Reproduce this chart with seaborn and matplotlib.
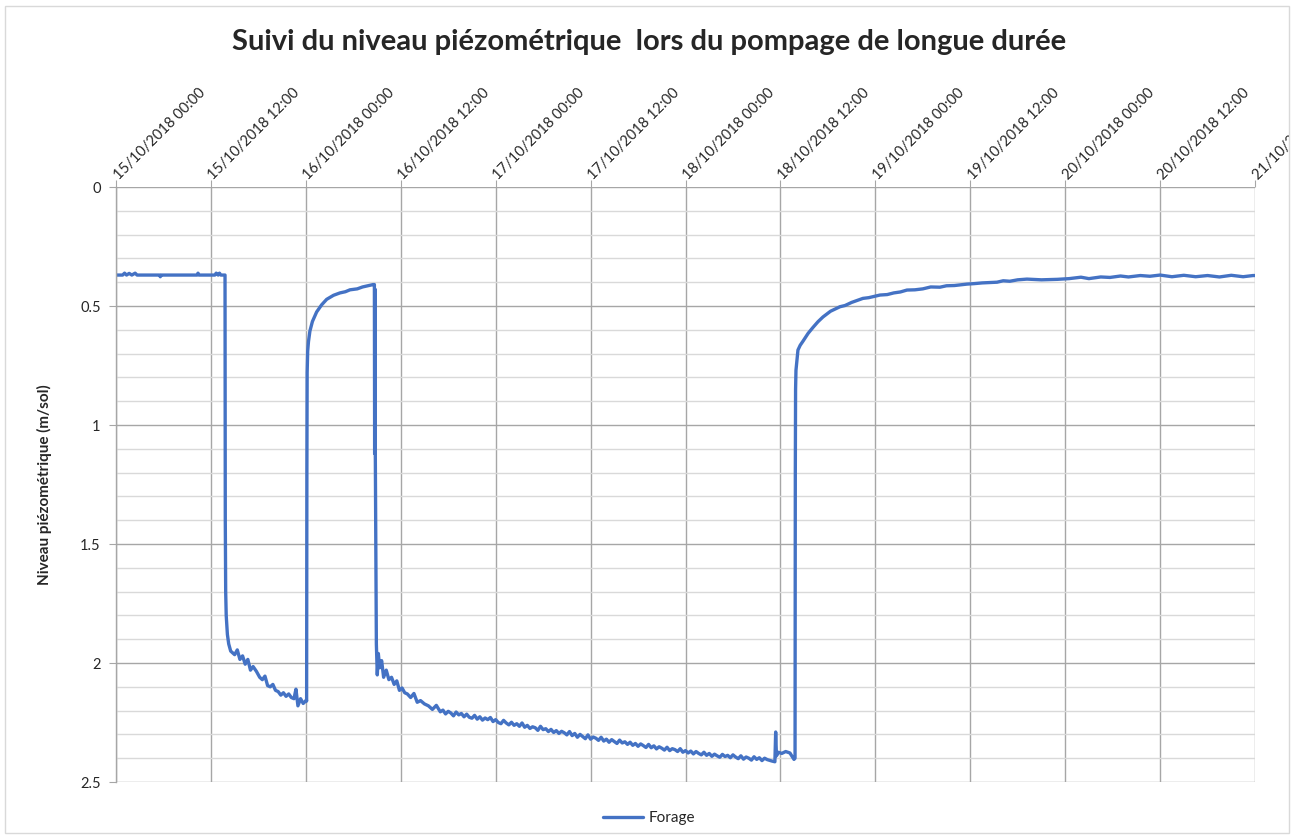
import matplotlib
matplotlib.use("Agg")
import matplotlib.dates as mdates
import matplotlib.pyplot as plt
import pandas as pd
import seaborn as sns
from matplotlib.patches import Rectangle
from matplotlib.ticker import FuncFormatter, MultipleLocator
from matplotlib.transforms import Bbox, TransformedBbox

TITLE = "Suivi du niveau piézométrique  lors du pompage de longue durée"
Y_LABEL = "Niveau piézométrique (m/sol)"
SERIES = "Forage"

# relevés du forage (date/heure, niveau en m/sol)
# avant la longue descente : statique, premier pompage, remontée 1, début du pompage longue durée
times_pre = [
    "2018-10-15 00:00", "2018-10-15 00:50", "2018-10-15 01:05", "2018-10-15 01:20", "2018-10-15 01:40",
    "2018-10-15 02:00", "2018-10-15 02:25", "2018-10-15 02:40", "2018-10-15 05:30", "2018-10-15 05:36",
    "2018-10-15 05:42", "2018-10-15 10:15", "2018-10-15 10:22", "2018-10-15 10:30", "2018-10-15 12:30",
    "2018-10-15 12:40", "2018-10-15 12:55", "2018-10-15 13:05", "2018-10-15 13:15", "2018-10-15 13:47",
    "2018-10-15 13:49", "2018-10-15 13:52", "2018-10-15 13:56", "2018-10-15 14:05", "2018-10-15 14:15",
    "2018-10-15 14:30", "2018-10-15 15:00", "2018-10-15 15:20", "2018-10-15 15:40", "2018-10-15 16:00",
    "2018-10-15 16:20", "2018-10-15 16:40", "2018-10-15 17:00", "2018-10-15 17:20", "2018-10-15 17:45",
    "2018-10-15 18:10", "2018-10-15 18:30", "2018-10-15 18:50", "2018-10-15 19:10", "2018-10-15 19:30",
    "2018-10-15 19:50", "2018-10-15 20:10", "2018-10-15 20:30", "2018-10-15 20:50", "2018-10-15 21:10",
    "2018-10-15 21:30", "2018-10-15 21:50", "2018-10-15 22:10", "2018-10-15 22:30", "2018-10-15 22:45",
    "2018-10-15 23:00", "2018-10-15 23:20", "2018-10-15 23:40", "2018-10-15 23:58", "2018-10-16 00:04",
    "2018-10-16 00:06", "2018-10-16 00:08", "2018-10-16 00:10", "2018-10-16 00:14", "2018-10-16 00:20",
    "2018-10-16 00:31", "2018-10-16 00:50", "2018-10-16 01:22", "2018-10-16 02:00", "2018-10-16 02:38",
    "2018-10-16 03:30", "2018-10-16 04:19", "2018-10-16 05:00", "2018-10-16 05:35", "2018-10-16 06:30",
    "2018-10-16 07:10", "2018-10-16 07:42", "2018-10-16 08:30",
    "2018-10-16 08:40", "2018-10-16 08:42", "2018-10-16 08:43", "2018-10-16 08:44", "2018-10-16 08:46",
    "2018-10-16 08:47", "2018-10-16 08:55", "2018-10-16 09:02", "2018-10-16 09:10", "2018-10-16 09:20",
    "2018-10-16 09:35", "2018-10-16 09:50", "2018-10-16 10:10", "2018-10-16 10:30", "2018-10-16 10:50",
    "2018-10-16 11:10", "2018-10-16 11:30", "2018-10-16 11:50", "2018-10-16 12:10", "2018-10-16 12:30",
    "2018-10-16 12:50", "2018-10-16 13:15", "2018-10-16 13:40", "2018-10-16 14:05", "2018-10-16 14:30",
    "2018-10-16 15:00", "2018-10-16 15:30", "2018-10-16 16:00", "2018-10-16 16:30",
]
levels_pre = [
    0.370, 0.370, 0.362, 0.370, 0.363,
    0.370, 0.362, 0.370, 0.370, 0.377,
    0.370, 0.370, 0.362, 0.370, 0.370,
    0.362, 0.370, 0.362, 0.370, 0.370,
    1.400, 1.700, 1.800, 1.880, 1.920,
    1.950, 1.965, 1.945, 1.985, 1.970,
    2.005, 1.985, 2.030, 2.015, 2.035,
    2.060, 2.070, 2.055, 2.095, 2.100,
    2.090, 2.115, 2.120, 2.135, 2.125,
    2.140, 2.130, 2.145, 2.150, 2.110,
    2.180, 2.150, 2.170, 2.160, 2.155,
    2.160, 1.200, 0.780, 0.690, 0.650,
    0.605, 0.565, 0.525, 0.495, 0.472,
    0.455, 0.445, 0.440, 0.432, 0.428,
    0.420, 0.416, 0.410,
    0.410, 1.120, 0.450, 1.100, 0.430,
    1.120, 1.920, 2.050, 1.960, 2.020,
    1.990, 2.060, 2.030, 2.070, 2.060,
    2.090, 2.075, 2.115, 2.105, 2.125,
    2.130, 2.145, 2.128, 2.165, 2.158,
    2.172, 2.180, 2.195, 2.178,
]

# longue descente, relevés toutes les 20 min (16/10 17:00 -> 18/10 10:20)
decline_start = "2018-10-16 17:00"
decline_end = "2018-10-18 10:20"
levels_decline = [
    2.205, 2.198, 2.214, 2.203, 2.210, 2.222, 2.206, 2.218, 2.212, 2.226,
    2.215, 2.228, 2.232, 2.220, 2.236, 2.226, 2.240, 2.231, 2.238, 2.229,
    2.246, 2.238, 2.250, 2.255, 2.241, 2.252, 2.260, 2.249, 2.262, 2.255,
    2.266, 2.252, 2.270, 2.262, 2.275, 2.268, 2.272, 2.283, 2.266, 2.280,
    2.276, 2.288, 2.279, 2.292, 2.284, 2.296, 2.287, 2.293, 2.302, 2.288,
    2.305, 2.296, 2.312, 2.300, 2.309, 2.318, 2.302, 2.320, 2.311, 2.316,
    2.325, 2.312, 2.328, 2.320, 2.333, 2.322, 2.330, 2.338, 2.324, 2.336,
    2.331, 2.342, 2.333, 2.346, 2.338, 2.350, 2.340, 2.347, 2.355, 2.342,
    2.356, 2.348, 2.361, 2.352, 2.358, 2.366, 2.354, 2.368, 2.360, 2.364,
    2.372, 2.360, 2.375, 2.368, 2.378, 2.370, 2.382, 2.372, 2.380, 2.386,
    2.375, 2.388, 2.380, 2.392, 2.383, 2.390, 2.396, 2.384, 2.393, 2.388,
    2.398, 2.386, 2.395, 2.402, 2.390, 2.404, 2.395, 2.400, 2.408, 2.394,
    2.405, 2.398, 2.410, 2.400, 2.406,
]

# fin du pompage et remontée 2
times_post = [
    "2018-10-18 10:56", "2018-10-18 11:18", "2018-10-18 11:24",
    "2018-10-18 11:30", "2018-10-18 11:45", "2018-10-18 12:10", "2018-10-18 12:40", "2018-10-18 13:12",
    "2018-10-18 13:43", "2018-10-18 13:51",
    "2018-10-18 13:53", "2018-10-18 13:55", "2018-10-18 13:58", "2018-10-18 14:13", "2018-10-18 14:30",
    "2018-10-18 14:51", "2018-10-18 15:30", "2018-10-18 16:07", "2018-10-18 16:45", "2018-10-18 17:23",
    "2018-10-18 18:20", "2018-10-18 19:32", "2018-10-18 20:10", "2018-10-18 21:00", "2018-10-18 22:26",
    "2018-10-18 23:10", "2018-10-19 00:35", "2018-10-19 01:30", "2018-10-19 02:20", "2018-10-19 03:10",
    "2018-10-19 04:00", "2018-10-19 05:00", "2018-10-19 06:00", "2018-10-19 07:00", "2018-10-19 08:10",
    "2018-10-19 09:00", "2018-10-19 10:00", "2018-10-19 11:35", "2018-10-19 12:30", "2018-10-19 13:30",
    "2018-10-19 15:23", "2018-10-19 16:10", "2018-10-19 17:00", "2018-10-19 18:00", "2018-10-19 19:10",
    "2018-10-19 21:00", "2018-10-19 23:00", "2018-10-20 00:30", "2018-10-20 02:00", "2018-10-20 03:00",
    "2018-10-20 04:30", "2018-10-20 05:40", "2018-10-20 07:00", "2018-10-20 08:00", "2018-10-20 09:30",
    "2018-10-20 10:43", "2018-10-20 12:00", "2018-10-20 13:30", "2018-10-20 15:00", "2018-10-20 16:30",
    "2018-10-20 18:00", "2018-10-20 19:30", "2018-10-20 21:00", "2018-10-20 22:30", "2018-10-20 23:45",
    "2018-10-21 00:00",
]
levels_post = [
    2.412, 2.415, 2.290,
    2.390, 2.375, 2.380, 2.372, 2.378,
    2.405, 2.400,
    1.200, 0.850, 0.770, 0.685, 0.665,
    0.648, 0.615, 0.590, 0.566, 0.546,
    0.522, 0.503, 0.498, 0.485, 0.468,
    0.465, 0.454, 0.452, 0.445, 0.441,
    0.433, 0.432, 0.428, 0.420, 0.421,
    0.415, 0.414, 0.408, 0.406, 0.403,
    0.400, 0.394, 0.396, 0.390, 0.387,
    0.390, 0.388, 0.385, 0.379, 0.385,
    0.378, 0.380, 0.374, 0.378, 0.372,
    0.375, 0.370, 0.377, 0.371, 0.377,
    0.372, 0.378, 0.371, 0.377, 0.372,
    0.372,
]

x_start = "2018-10-15 00:00"
x_end = "2018-10-21 00:00"

decline_times = pd.date_range(decline_start, decline_end, freq="20min")
assert len(times_pre) == len(levels_pre)
assert len(decline_times) == len(levels_decline)
assert len(times_post) == len(levels_post)

df = pd.DataFrame({
    "date": list(pd.to_datetime(times_pre)) + list(decline_times) + list(pd.to_datetime(times_post)),
    "niveau": levels_pre + levels_decline + levels_post,
})

W, H = 1298, 838
sns.set_style("white")
plt.rcParams["font.family"] = ["Lato", "DejaVu Sans"]

fig = plt.figure(figsize=(W / 100, H / 100), dpi=100)
ax = fig.add_axes([116 / W, 1 - 782 / H, (1255 - 116) / W, (782 - 187) / H])

sns.lineplot(data=df, x="date", y="niveau", ax=ax, color="#4472C4", linewidth=2.4,
             label=SERIES, legend=False, sort=False)

ax.set_xlim(pd.Timestamp(x_start), pd.Timestamp(x_end))
ax.set_ylim(2.5, 0)

ax.xaxis.tick_top()
ax.set_xticks(pd.date_range(x_start, x_end, freq="12h"))
ax.xaxis.set_major_formatter(mdates.DateFormatter("%d/%m/%Y %H:%M"))
ax.yaxis.set_major_locator(MultipleLocator(0.5))
ax.yaxis.set_minor_locator(MultipleLocator(0.1))
ax.yaxis.set_major_formatter(FuncFormatter(lambda v, _: f"{v:g}"))

ax.grid(which="major", axis="both", color="#a6a6a6", linewidth=1.0)
ax.grid(which="minor", axis="y", color="#d9d9d9", linewidth=1.0)
ax.set_axisbelow(True)

for side in ["top", "right", "bottom"]:
    ax.spines[side].set_visible(False)
ax.spines["left"].set_color("#a6a6a6")
ax.spines["left"].set_linewidth(1.0)

ax.tick_params(axis="x", which="major", top=True, bottom=False, length=5, color="#a6a6a6",
               labelsize=10.5, pad=2, labelrotation=45)
ax.tick_params(axis="y", which="major", left=True, length=5, color="#a6a6a6", labelsize=10.5, pad=6)
ax.tick_params(axis="y", which="minor", left=False)

ax.set_xlabel("")
ax.set_ylabel(Y_LABEL, fontsize=11, fontweight="bold", labelpad=20)

fig.text(0.5, 1 - 42 / H, TITLE, ha="center", va="center", fontsize=21, fontweight="bold")

handles, _ = ax.get_legend_handles_labels()
fig.legend(handles, [SERIES], loc="center", bbox_to_anchor=(0.5, 1 - 818 / H), frameon=False,
           fontsize=11, handlelength=2.6, handletextpad=0.4)

border = Rectangle((5 / W, 1 - 833 / H), (1289 - 5) / W, (833 - 6) / H,
                   transform=fig.transFigure, fill=False, edgecolor="#d9d9d9", linewidth=1.0)
fig.patches.append(border)

# labels anchored at the tick, clipped to the chart border like the original
fig.canvas.draw()
clip = TransformedBbox(Bbox([[5 / W, 1 - 833 / H], [1289 / W, 1 - 6 / H]]), fig.transFigure)
for lbl in ax.get_xticklabels():
    lbl.set_horizontalalignment("left")
    lbl.set_verticalalignment("center")
    lbl.set_rotation_mode("anchor")
    lbl.set_clip_box(clip)
    lbl.set_clip_on(True)

fig.savefig("out.png", dpi=100, facecolor="white")
